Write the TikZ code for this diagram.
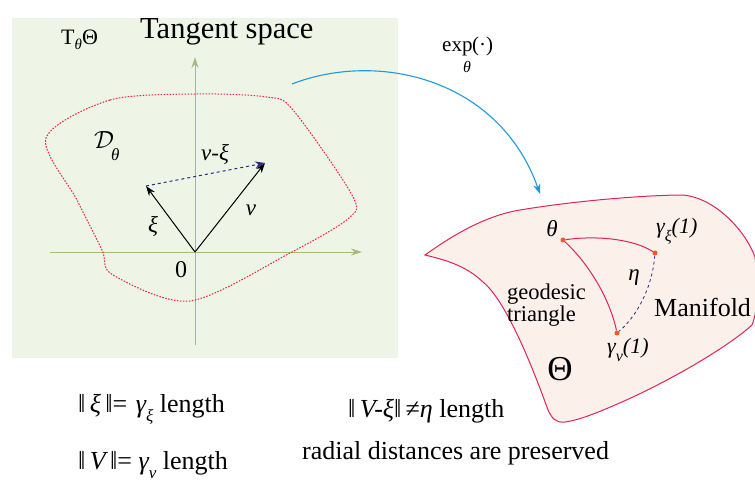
\documentclass[tikz,border=0pt]{standalone}
\usepackage{fontspec}
\setmainfont{Liberation Serif}
\usetikzlibrary{arrows.meta}
\definecolor{bggreen}{HTML}{EEF5E6}
\definecolor{axisgreen}{HTML}{A8BA7A}
\definecolor{dotred}{HTML}{E8283C}
\definecolor{manfill}{HTML}{FBF0EA}
\definecolor{manline}{HTML}{E0245A}
\definecolor{arcblue}{HTML}{1E9BD7}
\definecolor{dashblue}{HTML}{2A2A8A}
\definecolor{ptorange}{HTML}{F05A28}
\newcommand{\fs}[1]{\fontsize{#1}{#1}\selectfont}
\newcommand{\mysub}[3][-0.55ex]{\raisebox{#1}{\fs{#2}#3}}
\tikzset{
  lbl/.style={inner sep=0pt},
  mlbl/.style={inner sep=0pt, font=\fs{23}\itshape},
  axis/.style={axisgreen, line width=0.9pt, -{Stealth[length=11pt,width=7pt]}},
  vec/.style={black, line width=1pt, -{Stealth[length=10pt,width=7pt]}},
  geo/.style={manline, line width=1pt},
  pt/.style={circle, fill=ptorange, inner sep=0pt, minimum size=5pt}
}
\begin{document}
\begin{tikzpicture}[x=1pt,y=-1pt]
\useasboundingbox (0,0) rectangle (755,481);
% tangent space panel
\fill[bggreen] (12,18) rectangle (398,358);
\node[lbl, anchor=west, font=\fs{22}] (tth) at (61,40) {T\mysub{15}{\itshape θ}Θ};
\node[lbl, anchor=base west, font=\fs{30.5}] (ts) at (140,39) {Tangent space};
% axes
\coordinate (o) at (195,252);
\coordinate (vb) at (195,345);
\coordinate (vt) at (195,57);
\coordinate (hl) at (50,252);
\coordinate (hr) at (362,252);
\draw[axis] (vb) -- (vt);
\draw[axis] (hl) -- (hr);
% region D
\draw[dotred, line width=1pt, dash pattern=on 1.6pt off 1.4pt]
  plot[smooth cycle, tension=0.5] coordinates {
  (46,138) (110,100) (197,94) (267,97) (293,110) (352,195) (349,218)
  (290,253) (190,301) (113,275) (102,250) (77,200)};
% vectors
\coordinate (xi) at (146,186);
\coordinate (v) at (265,163);
\draw[vec] (o) -- (xi);
\draw[vec] (o) -- (v);
\draw[dashblue, line width=1pt, dashed, -{Stealth[length=10pt,width=7pt]}] (xi) -- (v);
\node[mlbl] (lvxi) at (215,154) {v-ξ};
\node[mlbl] (lv) at (251,210) {v};
\node[mlbl] (lxi) at (153,226) {ξ};
\node[lbl, font=\fs{24}] (l0) at (181,270) {0};
\node[inner sep=0pt, anchor=west] (ld) at (94,146) {\fs{25}$\mathcal{D}$\hspace{-3pt}\raisebox{-1.0ex}{\fs{17}\itshape θ}};
% exp map arc
\coordinate (as) at (292,84);
\coordinate (ae) at (540,194);
\draw[arcblue, line width=1.1pt, -{Stealth[length=10pt,width=7pt]}] (as) .. controls (380,50) and (500,80) .. (ae);
\node[inner sep=0pt, anchor=base west, font=\fs{21}] (exp) at (442,52) {exp};
\node[inner sep=0pt, anchor=base west, font=\fs{21}] (expdot) at (472,52) {(·)};
\node[inner sep=0pt, font=\fs{16}\itshape] (expth) at (467,67) {θ};
% manifold
\fill[manfill, draw=manline, line width=1pt]
  (425,255) .. controls (460,230) and (490,215) .. (520,210)
  .. controls (580,200) and (650,195) .. (683,195)
  .. controls (715,198) and (745,230) .. (755,257)
  .. controls (758,290) and (758,310) .. (752,325)
  .. controls (730,345) and (680,375) .. (633,397)
  .. controls (600,412) and (580,420) .. (565,422)
  .. controls (555,423) and (552,418) .. (548,410)
  .. controls (530,360) and (505,300) .. (483,282)
  .. controls (465,265) and (445,260) .. (425,255) -- cycle;
\node[pt] (th) at (563,240) {};
\node[pt] (gx) at (655,253) {};
\node[pt] (gv) at (617,333) {};
\draw[geo] (th) .. controls (600,235) and (635,240) .. (gx);
\draw[geo] (th) .. controls (590,265) and (610,300) .. (gv);
\draw[dashblue, line width=0.8pt, dashed] (gx) .. controls (652,290) and (635,318) .. (gv);
\node[mlbl] (lth) at (552,229) {θ};
\node[mlbl, anchor=west, font=\fs{22}\itshape] (lgx) at (656,231) {γ\mysub[-0.8ex]{16}{ξ}(1)};
\node[mlbl] (leta) at (634,278) {η};
\node[lbl, font=\fs{22.5}, align=left, anchor=west] (geo) at (507,305) {geodesic\\[-1pt]triangle};
\node[lbl, anchor=west, font=\fs{26}] (man) at (654,307) {Manifold};
\node[mlbl, anchor=west, font=\fs{22}\itshape] (lgv) at (607,350) {γ\mysub[-0.8ex]{16}{v}(1)};
\node[lbl, font=\fs{35}] (bth) at (560,369) {Θ};
% bottom texts
\node[lbl, anchor=base west, font=\fs{26}] (n1) at (78,412) {‖\,{\itshape ξ}\,‖=\,\,{\itshape γ}\mysub[-0.8ex]{17}{\itshape ξ} length};
\node[lbl, anchor=base west, font=\fs{26}] (n2) at (78,469) {‖\,{\itshape V}\,‖= {\itshape γ}\mysub[-0.8ex]{17}{\itshape v} length};
\node[lbl, anchor=base west, font=\fs{26}] (n3) at (348,417) {‖\,{\itshape V-ξ}‖\,≠{\itshape η} length};
\node[lbl, anchor=base west, font=\fs{26}] (n4) at (302,459) {radial distances are preserved};
\end{tikzpicture}
\end{document}
